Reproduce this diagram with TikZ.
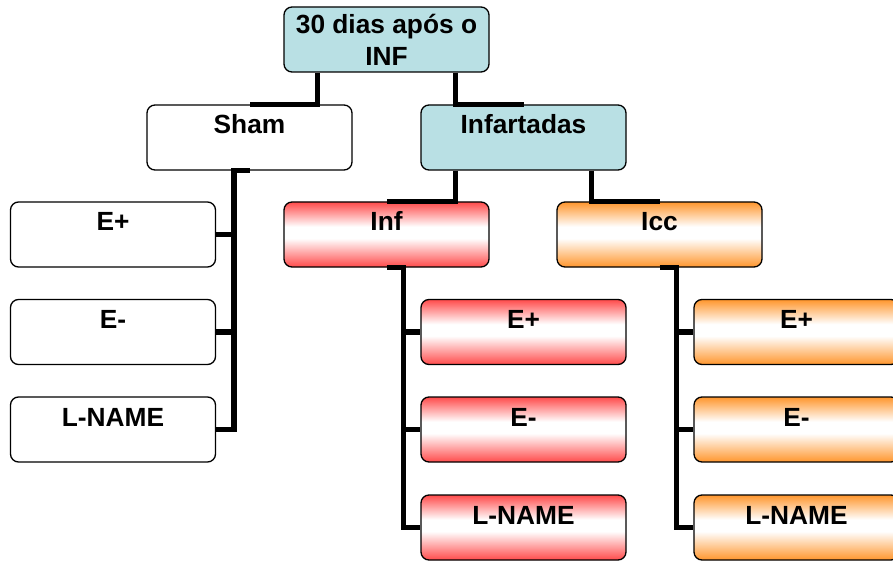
\documentclass[tikz,border=0pt]{standalone}
\usepackage{fontspec}
\setmainfont{Liberation Sans}
\definecolor{redc}{RGB}{255,75,75}
\definecolor{orangec}{RGB}{255,150,45}
\definecolor{tealc}{RGB}{185,224,228}
\pgfdeclareverticalshading{redgrad}{100bp}{color(0bp)=(redc); color(25bp)=(redc); color(47bp)=(white); color(56bp)=(white); color(75bp)=(redc); color(100bp)=(redc)}
\pgfdeclareverticalshading{orangegrad}{100bp}{color(0bp)=(orangec); color(25bp)=(orangec); color(47bp)=(white); color(56bp)=(white); color(75bp)=(orangec); color(100bp)=(orangec)}
\begin{document}
\begin{tikzpicture}[x=1pt,y=-1pt,
  box/.style={draw=black, line width=1.3pt, rounded corners=8pt, minimum width=205pt, minimum height=65pt, inner sep=0pt, align=center, font=\bfseries\fontsize{26.3}{32}\selectfont, text height=10pt, text depth=17pt},
  plainbox/.style={box, fill=white},
  tealbox/.style={box, fill=tealc},
  redbox/.style={box, shading=redgrad},
  orangebox/.style={box, shading=orangegrad},
  conn/.style={line width=5.5pt, draw=black}]
\useasboundingbox[fill=white] (0,0) rectangle (893,561);
% nodes
\node[tealbox, text height=56pt, text depth=3pt] (top) at (386.5,39.5) {30 dias após o\\INF};
\node[plainbox] (sham) at (249.5,137.5) {Sham};
\node[tealbox] (infart) at (523.5,137.5) {Infartadas};
\node[redbox] (inf) at (386.5,234.5) {Inf};
\node[orangebox] (icc) at (659.5,234.5) {Icc};
\node[plainbox] (le1) at (113,234.5) {E+};
\node[plainbox] (le2) at (113,332) {E-};
\node[plainbox] (le3) at (113,429.5) {L-NAME};
\node[redbox] (re1) at (523.5,332) {E+};
\node[redbox] (re2) at (523.5,429.5) {E-};
\node[redbox] (re3) at (523.5,527.5) {L-NAME};
\node[orangebox] (oe1) at (796.5,332) {E+};
\node[orangebox] (oe2) at (796.5,429.5) {E-};
\node[orangebox] (oe3) at (796.5,527.5) {L-NAME};
% connectors
\draw[conn] ([xshift=34pt]top.south west) |- (sham.north);
\draw[conn] ([xshift=-34pt]top.south east) |- (infart.north);
\draw[conn] ([xshift=35pt]infart.south west) |- (inf.north);
\draw[conn] ([xshift=-35pt]infart.south east) |- (icc.north);
\draw[conn] (sham.south) -| ([xshift=18pt]le3.east) -- (le3.east);
\draw[conn] ([xshift=18pt]le1.east) -- (le1.east);
\draw[conn] ([xshift=18pt]le2.east) -- (le2.east);
\draw[conn] (inf.south) -| ([xshift=-17pt]re3.west) -- (re3.west);
\draw[conn] ([xshift=-17pt]re1.west) -- (re1.west);
\draw[conn] ([xshift=-17pt]re2.west) -- (re2.west);
\draw[conn] (icc.south) -| ([xshift=-17pt]oe3.west) -- (oe3.west);
\draw[conn] ([xshift=-17pt]oe1.west) -- (oe1.west);
\draw[conn] ([xshift=-17pt]oe2.west) -- (oe2.west);
\end{tikzpicture}
\end{document}
